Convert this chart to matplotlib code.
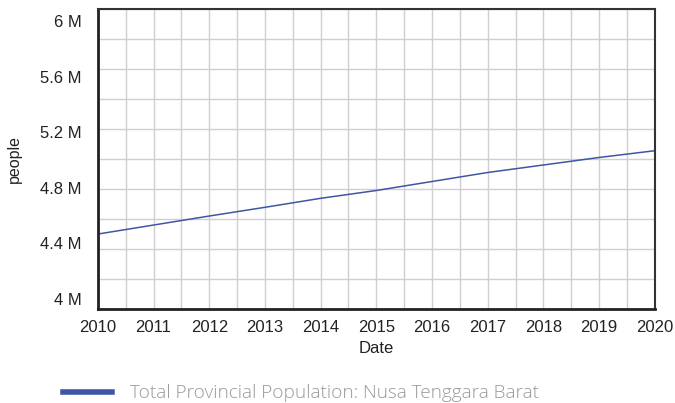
import numpy as np
import matplotlib
matplotlib.use("Agg")
import matplotlib.pyplot as plt
import matplotlib.transforms as mtransforms
from matplotlib.ticker import FuncFormatter, MultipleLocator
from matplotlib.lines import Line2D

years = [2010, 2011, 2012, 2013, 2014, 2015, 2016, 2017, 2018, 2019, 2020]
population = [4.50e6, 4.56e6, 4.62e6, 4.678e6, 4.738e6, 4.79e6, 4.85e6, 4.91e6, 4.96e6, 5.01e6, 5.055e6]
series_label = "Total Provincial Population: Nusa Tenggara Barat"
y_ticks = [4.0e6, 4.4e6, 4.8e6, 5.2e6, 5.6e6, 6.0e6]

plt.rcParams['font.family'] = ['Liberation Sans', 'DejaVu Sans']

fig = plt.figure(figsize=(6.75, 4.03), dpi=100)
ax = fig.add_axes([0.145, 0.233, 0.825, 0.745])

ax.plot(years, population, color='#3f55a5', lw=1.1)

ax.set_xlim(2010, 2020)
ax.set_ylim(4e6, 6e6)
ax.xaxis.set_major_locator(MultipleLocator(1))
ax.xaxis.set_minor_locator(MultipleLocator(0.5))
ax.set_yticks(y_ticks)
ax.yaxis.set_minor_locator(MultipleLocator(0.2e6))

def fmt_m(v, pos):
    s = '%.1f' % (v / 1e6)
    if s.endswith('.0'):
        s = s[:-2]
    return s + ' M'

ax.yaxis.set_major_formatter(FuncFormatter(fmt_m))
ax.xaxis.set_major_formatter(FuncFormatter(lambda v, p: '%d' % v))

ax.grid(which='both', color='#cfcfcf', lw=1)
ax.set_axisbelow(True)
ax.tick_params(which='both', length=0, labelsize=12, colors='#222222')
ax.tick_params(axis='y', pad=11.5)
ax.tick_params(axis='x', pad=8)

# the labels sit in a slightly squeezed band, as in the original tool
n = len(y_ticks)
for i, tick in enumerate(ax.yaxis.get_major_ticks()[:n]):
    up = 10 - 22 * i / (n - 1)   # px
    off = mtransforms.ScaledTranslation(0, up / 100, fig.dpi_scale_trans)
    tick.label1.set_transform(tick.label1.get_transform() + off)

for side in ['left', 'bottom']:
    ax.spines[side].set_linewidth(2)
    ax.spines[side].set_color('#222222')
for side in ['top', 'right']:
    ax.spines[side].set_linewidth(1.5)
    ax.spines[side].set_color('#333333')

ax.set_xlabel('Date', fontsize=12, labelpad=4, color='#222222')
ax.set_ylabel('people', fontsize=11.5, labelpad=13, color='#222222')

handle = Line2D([], [], color='#3f55a5', lw=4)
fig.legend([handle], [series_label], loc='center left', bbox_to_anchor=(0.068, 0.024),
           frameon=False, handlelength=2.6, handletextpad=0.9,
           prop={'family': 'Open Sans', 'size': 13.7, 'weight': 'light'}, labelcolor='#999999')

fig.savefig('out.png', dpi=100)
